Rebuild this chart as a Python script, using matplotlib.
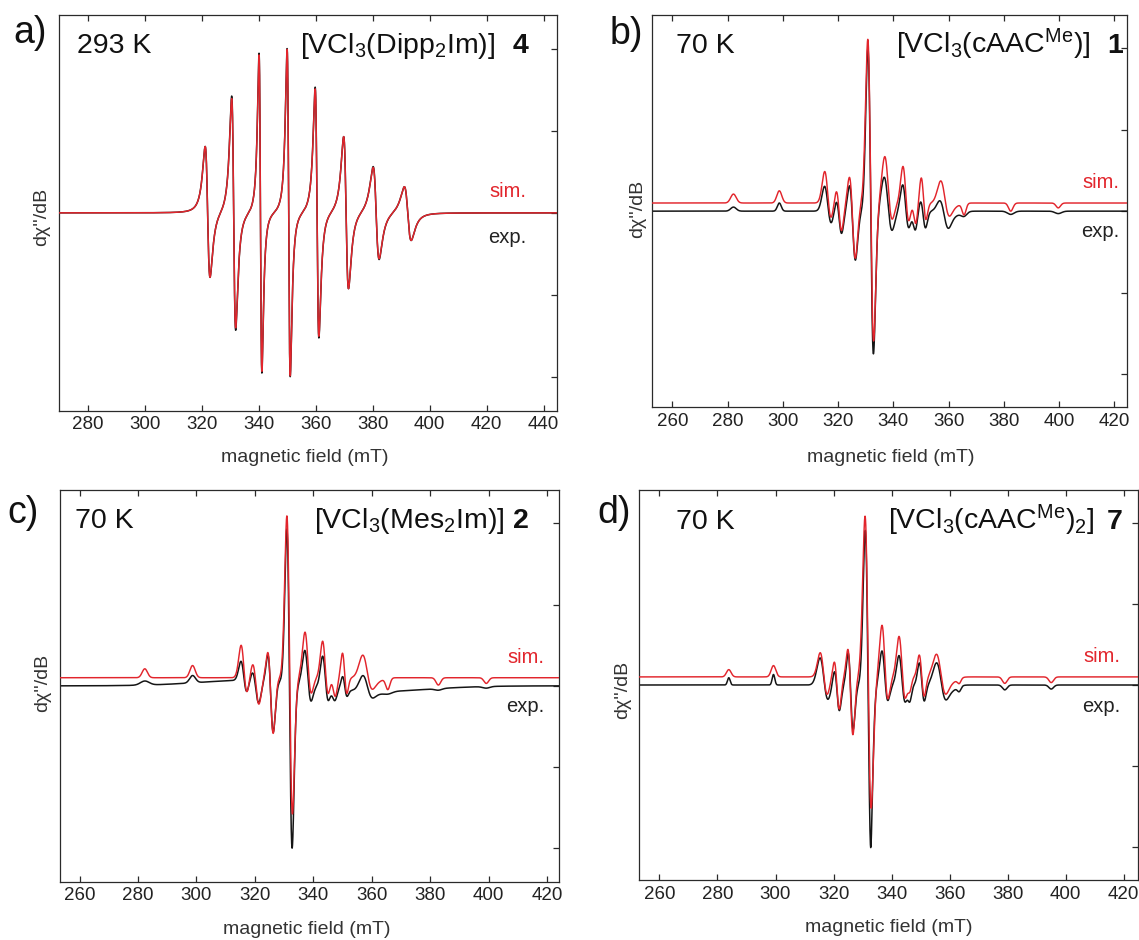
import numpy as np
import matplotlib
matplotlib.use("Agg")
import matplotlib.pyplot as plt

plt.rcParams["font.family"] = ["Liberation Sans", "DejaVu Sans"]
plt.rcParams["mathtext.fontset"] = "custom"
plt.rcParams["mathtext.rm"] = "Liberation Sans"
plt.rcParams["mathtext.it"] = "Liberation Sans:italic"
plt.rcParams["mathtext.bf"] = "Liberation Sans:bold"

# ---------------------------------------------------------------------------
# a) 293 K, eight-line 51V hyperfine pattern (Lorentzian first derivatives)
A_CENTER = [322.05, 331.2, 340.6, 350.5, 360.45, 370.65, 381.2, 392.3]     # mT
A_SIM_AMP = [0.80, 1.40, 1.93, 1.99, 1.51, 0.93, 0.56, 0.33]
A_EXP_AMP = [0.80, 1.43, 1.95, 2.00, 1.53, 0.93, 0.57, 0.33]
A_HALF_PP = [0.85, 0.70, 0.50, 0.55, 0.65, 0.85, 1.05, 1.20]               # mT

# b)-d) 70 K powder spectra: each feature = derivative part + absorption part
B_CENTER = [282.1, 298.7, 316.1, 320.45, 325.35, 331.75, 337.9, 344.35, 347.75,
            350.85, 358.4, 361.5, 365.6, 382.5, 399.7]
B_SIM_DERIV = [0, 0, .275, .24, .48, 1.85, .36, .325, .085, .255, .19, 0, 0, 0, 0]
B_SIM_ABS = [.11, .15, .17, -.15, -.30, .26, .31, .19, -.22, .09, .13, -.05, -.14, -.10, -.06]
B_SIM_WIDTH = [1.0, .9, 1.15, .95, 1.05, 1.05, 1.3, 1.05, .75, .85, 1.5, 2.0, .7, .8, .8]
B_EXP_DERIV = [0, 0, .22, .195, .445, 1.875, .32, .26, .04, .16, .15, 0, 0, 0, 0]
B_EXP_ABS = [.05, .10, .13, -.12, -.24, .20, .15, .10, -.22, -.07, -.02, -.06, -.05, -.04, -.03]
B_EXP_WIDTH = [1.0, .7, 1.2, .95, 1.05, 1.0, 1.4, 1.1, .75, .9, 1.5, 2.5, 1.0, 1.2, 1.2]

C_CENTER = [282.3, 298.65, 316.1, 320.45, 325.5, 331.85, 337.95, 343.95, 347.15,
            350.65, 358.15, 361.5, 365.5, 382.8, 399.2, 340.0]
C_SIM_DERIV = [0, 0, .28, .24, .48, 1.83, .35, .31, .07, .245, .18, 0, 0, 0, 0, 0]
C_SIM_ABS = [.11, .15, .18, -.13, -.31, .26, .31, .21, -.20, .09, .15, -.05, -.14, -.09, -.07, 0]
C_SIM_WIDTH = [.9, .9, 1.0, 1.05, .9, .95, 1.05, .95, .75, .75, 1.55, 2.0, .7, .8, .8, 22]
C_EXP_DERIV = [0, 0, .185, .175, .46, 1.96, .295, .255, .02, .115, .114, 0, 0, 0, 0, .07]
C_EXP_ABS = [.05, .09, .075, -.15, -.26, -.12, .19, .19, -.14, .07, .117, -.03, -.03, -.02, -.02, 0]
C_EXP_WIDTH = [1.5, 1.0, 1.0, 1.05, .9, .9, 1.05, .95, .75, .75, 1.55, 2.0, 1.5, 1.2, 1.2, 22]

D_CENTER = [283.9, 299.3, 316.5, 321.25, 325.95, 331.85, 337.5, 343.45, 346.3,
            350.35, 356.85, 360.8, 363.3, 379.0, 395.0, 332.8]
D_SIM_DERIV = [0, 0, .255, .285, .51, 1.8, .435, .37, 0, .255, .23, 0, 0, 0, 0, 0]
D_SIM_ABS = [.09, .14, .07, -.17, -.31, .30, .305, .20, -.15, .025, .08, -.06, -.06, -.08, -.07, 0]
D_SIM_WIDTH = [.8, .8, 1.2, .85, .85, 1.05, 1.0, 1.05, .6, .85, 1.55, 1.8, .6, .8, .8, .3]
D_EXP_DERIV = [0, 0, .25, .245, .47, 1.85, .295, .28, 0, .235, .21, 0, 0, 0, 0, 0]
D_EXP_ABS = [.09, .13, .13, -.11, -.13, .10, .19, .13, -.18, .06, .10, -.06, -.06, -.06, -.05, -.22]
D_EXP_WIDTH = [.45, .45, 1.35, .85, .85, .95, 1.0, 1.05, .6, .85, 1.55, 1.8, .6, .8, .8, .3]

SIM_OFFSET = [0.0, 0.10, 0.10, 0.10]

TEMPS = ["293 K", "70 K", "70 K", "70 K"]
COMPOUNDS = [r"[VCl$_\mathregular{3}$(Dipp$_\mathregular{2}$Im)]",
             r"[VCl$_\mathregular{3}$(cAAC$^\mathregular{Me}$)]",
             r"[VCl$_\mathregular{3}$(Mes$_\mathregular{2}$Im)]",
             r"[VCl$_\mathregular{3}$(cAAC$^\mathregular{Me}$)$_\mathregular{2}$]"]
NUMBERS = ["4", "1", "2", "7"]
PANEL_TAGS = ["a)", "b)", "c)", "d)"]
XTICKS = [list(range(280, 441, 20))] + [list(range(260, 421, 20))] * 3
XLIMS = [(270.0, 444.5), (252.5, 424.7), (253.1, 424.1), (253.1, 424.9)]

RED = "#e2252c"
BLACK = "#151515"
GREY = "#2a2a2a"


def lorentz_deriv(x, c, half_pp):
    t = (x - c) / (np.sqrt(3.0) * half_pp)
    return -t / (1.0 + t * t) ** 2 / 0.32476


def gauss_deriv(x, c, s):
    u = (x - c) / s
    return -u * np.exp(-(u * u - 1.0) / 2.0)


def gauss(x, c, s):
    u = (x - c) / s
    return np.exp(-u * u / 2.0)


def hyperfine(x, centers, amps, widths):
    y = np.zeros_like(x)
    for c, a, w in zip(centers, amps, widths):
        y += a * lorentz_deriv(x, c, w)
    return y


def powder(x, centers, deriv, absorb, widths):
    y = np.zeros_like(x)
    for c, d, a, w in zip(centers, deriv, absorb, widths):
        y += d * gauss_deriv(x, c, w) + a * gauss(x, c, w)
    return y


W, H = 1139, 940
fig = plt.figure(figsize=(W / 100, H / 100), dpi=100)


def box(l, t, r, b):
    return fig.add_axes([l / W, 1 - b / H, (r - l) / W, (b - t) / H])


def ftext(x, y, s, **kw):
    return fig.text(x / W, 1 - y / H, s, **kw)


boxes = [(59.3, 15, 556.5, 410.7), (651.7, 15, 1127.3, 407.3),
         (59.5, 490, 559, 881.7), (639.4, 490, 1138.0, 880)]
axes = [box(*b) for b in boxes]

field_a = np.linspace(266, 448, 12000)
field = np.linspace(250, 428, 12000)

curves = [
    (field_a, hyperfine(field_a, A_CENTER, A_EXP_AMP, A_HALF_PP),
     hyperfine(field_a, A_CENTER, A_SIM_AMP, A_HALF_PP)),
    (field, powder(field, B_CENTER, B_EXP_DERIV, B_EXP_ABS, B_EXP_WIDTH),
     powder(field, B_CENTER, B_SIM_DERIV, B_SIM_ABS, B_SIM_WIDTH)),
    (field, powder(field, C_CENTER, C_EXP_DERIV, C_EXP_ABS, C_EXP_WIDTH),
     powder(field, C_CENTER, C_SIM_DERIV, C_SIM_ABS, C_SIM_WIDTH)),
    (field, powder(field, D_CENTER, D_EXP_DERIV, D_EXP_ABS, D_EXP_WIDTH),
     powder(field, D_CENTER, D_SIM_DERIV, D_SIM_ABS, D_SIM_WIDTH)),
]

for i, ax in enumerate(axes):
    x, exp_y, sim_y = curves[i]
    ax.plot(x, exp_y, color=BLACK, lw=1.1, zorder=2)
    ax.plot(x, sim_y + SIM_OFFSET[i], color=RED, lw=1.05, zorder=3)
    ax.set_xlim(*XLIMS[i])
    ax.set_ylim(-2.41, 2.41)
    ax.set_xticks(XTICKS[i])
    ax.set_yticks([-2, -1, 0, 1, 2])
    ax.tick_params(axis="x", direction="in", top=True, bottom=True, length=4,
                   width=0.9, color=GREY, labelsize=13.5, labelcolor="#222222", pad=4)
    ax.tick_params(axis="y", direction="in", left=False, right=True, length=4,
                   width=0.9, color=GREY, labelleft=False, labelright=False)
    for sp in ax.spines.values():
        sp.set_color(GREY)
        sp.set_linewidth(0.9)

# panel annotations (pixel positions)
tag_pos = [(13, 43), (610, 43.5), (7, 523), (597, 523)]
temp_pos = [(77, 53.3), (676, 53.3), (75, 528), (676, 529)]
comp_end = [(495, 53.3), (1090.6, 53.3), (504, 528), (1094, 529)]
num_start = [(513, 53.3), (1107, 53.3), (513, 528), (1107, 529)]
sim_pos = [(526, 197), (1119, 188), (544, 663), (1120, 662)]
exp_pos = [(526, 242.7), (1119, 237), (544, 712), (1120, 712)]
ylab_pos = [(42, 217), (638, 209), (43, 683), (623, 690)]
xlab_pos = [(305, 458), (891, 457), (307, 930), (889, 928)]

for i in range(4):
    ftext(*tag_pos[i], PANEL_TAGS[i], fontsize=27, ha="left", va="baseline", color="#111111")
    ftext(*temp_pos[i], TEMPS[i], fontsize=20.5, ha="left", va="baseline", color="#111111")
    ftext(*comp_end[i], COMPOUNDS[i], fontsize=20.5, ha="right", va="baseline", color="#111111")
    ftext(*num_start[i], NUMBERS[i], fontsize=20.5, ha="left", va="baseline",
          fontweight="bold", color="#111111")
    ftext(*sim_pos[i], "sim.", fontsize=14.5, ha="right", va="baseline", color=RED)
    ftext(*exp_pos[i], "exp.", fontsize=14.5, ha="right", va="baseline", color="#222222")
    ftext(*ylab_pos[i], "d\u03c7''/dB", fontsize=14, rotation=90, ha="center",
          va="center", color="#333333")
    ftext(*xlab_pos[i], "magnetic field (mT)", fontsize=14, ha="center",
          va="center", color="#333333")

fig.savefig("out.png", dpi=100)
